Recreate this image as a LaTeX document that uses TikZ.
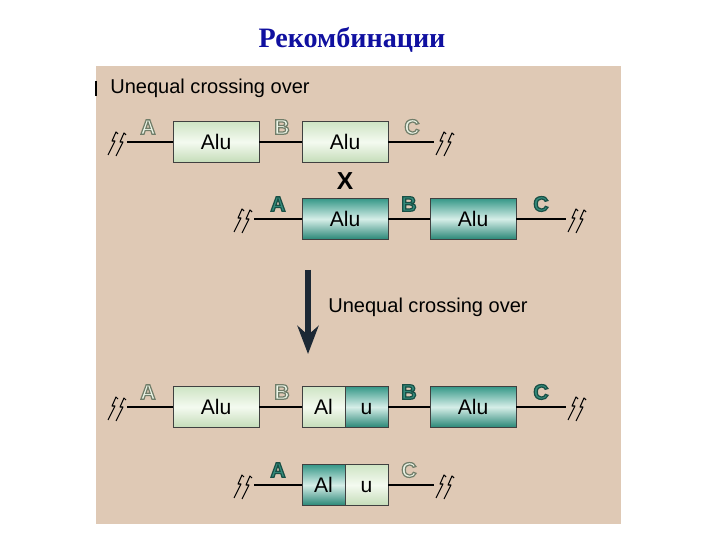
\documentclass[tikz,border=0pt]{standalone}
\usepackage{fontspec}
\setmainfont{Liberation Sans}
\newfontfamily\titlefont{Liberation Serif}
\usetikzlibrary{arrows.meta}

\definecolor{panel}{RGB}{223,201,181}
\definecolor{titleblue}{RGB}{16,16,160}
\definecolor{litetop}{RGB}{206,228,196}
\definecolor{litemid}{RGB}{244,250,240}
\definecolor{litebot}{RGB}{196,220,184}
\definecolor{darktop}{RGB}{54,152,136}
\definecolor{darkmid}{RGB}{214,238,232}
\definecolor{darkbot}{RGB}{40,134,118}
\definecolor{letfill}{RGB}{236,246,232}
\definecolor{tealfill}{RGB}{52,140,124}
\definecolor{arrowc}{RGB}{28,40,52}

% letter filled with #1 and stroked with the rgb triple #2
\newcommand\hollow[3]{{\color{#1}\special{pdf:literal direct #2 RG 0.7 w 2 Tr}#3\special{pdf:literal direct 0 Tr 0.3985 w}}}
\newcommand\lightlet[1]{\hollow{letfill}{0.44 0.49 0.41}{#1}}
\newcommand\darklet[1]{\hollow{tealfill}{0.10 0.31 0.27}{#1}}

\begin{document}
\begin{tikzpicture}[x=0.02cm, y=-0.02cm,
    lite/.style={draw=black!75, line width=0.5pt, minimum width=1.72cm, minimum height=0.82cm, inner sep=0pt,
        text height=8.6pt, text depth=0pt,
        top color=litetop, bottom color=litebot, middle color=litemid, font=\fontsize{12}{14}\selectfont},
    dark/.style={lite, top color=darktop, bottom color=darkbot, middle color=darkmid},
    half/.style={minimum width=0.86cm},
    site/.style={inner sep=0pt, font=\bfseries\fontsize{12}{14}\selectfont},
    label/.style={inner sep=0pt, font=\fontsize{11.4}{13}\selectfont},
    dna/.style={line width=1.1pt},
    brk/.pic={\draw[line width=0.6pt, line join=round] (-9,13) -- (-2,-1) -- (-5,-1) -- (-1,-10) -- (1,-8)
        (-1,14) -- (6,0) -- (3,0) -- (7,-9) -- (9,-7);}]

    \useasboundingbox (0,0) rectangle (720,540);
    \node[font=\titlefont\bfseries\fontsize{16}{19}\selectfont, text=titleblue] (title) at (352,40) {Рекомбинации};

    \fill[panel] (96,66) rectangle (621,524);
    \draw[line width=1.2pt] (96,81) -- (96,96);
    \node[label, anchor=west] (head) at (110,88) {Unequal crossing over};

    % first chromosome
    \node[lite] (a1) at (216,142) {Alu};
    \node[lite] (b1) at (345,142) {Alu};
    \coordinate (l1) at (127,142);
    \coordinate (r1) at (434,142);
    \draw[dna] (l1) -- (a1) (a1) -- (b1) (b1) -- (r1);
    \pic at (117,142) {brk};
    \pic at (445,142) {brk};
    \node[site] (sa1) at (148,127) {\lightlet{A}};
    \node[site] (sb1) at (282,127) {\lightlet{B}};
    \node[site] (sc1) at (412,127) {\lightlet{C}};

    \node[inner sep=0pt, font=\bfseries\fontsize{14}{16}\selectfont] (cross) at (345,181) {X};

    % second chromosome
    \node[dark] (a2) at (345,219) {Alu};
    \node[dark] (b2) at (473,219) {Alu};
    \coordinate (l2) at (254,219);
    \coordinate (r2) at (566,219);
    \draw[dna] (l2) -- (a2) (a2) -- (b2) (b2) -- (r2);
    \pic at (243,219) {brk};
    \pic at (577,219) {brk};
    \node[site] (sa2) at (278,204) {\darklet{A}};
    \node[site] (sb2) at (409,204) {\darklet{B}};
    \node[site] (sc2) at (541,204) {\darklet{C}};

    \coordinate (top) at (308,270);
    \coordinate (bot) at (308,354);
    \draw[arrowc, line width=3.4pt, -{Stealth[length=16pt,width=12pt]}] (top) -- (bot);
    \node[label] (step) at (428,307) {Unequal crossing over};

    % products
    \node[lite] (a3) at (216,407) {Alu};
    \node[lite, half] (p3) at (323.5,407) {Al};
    \node[dark, half] (q3) at (366.5,407) {u};
    \node[dark] (b3) at (473,407) {Alu};
    \coordinate (l3) at (127,407);
    \coordinate (r3) at (566,407);
    \draw[dna] (l3) -- (a3) (a3) -- (p3) (q3) -- (b3) (b3) -- (r3);
    \pic at (117,407) {brk};
    \pic at (577,407) {brk};
    \node[site] (sa3) at (148,392) {\lightlet{A}};
    \node[site] (sb3) at (282,392) {\lightlet{B}};
    \node[site] (sd3) at (409,392) {\darklet{B}};
    \node[site] (sc3) at (541,392) {\darklet{C}};

    \node[dark, half] (p4) at (323.5,485) {Al};
    \node[lite, half] (q4) at (366.5,485) {u};
    \coordinate (l4) at (254,485);
    \coordinate (r4) at (434,485);
    \draw[dna] (l4) -- (p4) (q4) -- (r4);
    \pic at (243,485) {brk};
    \pic at (445,485) {brk};
    \node[site] (sa4) at (278,470) {\darklet{A}};
    \node[site] (sc4) at (409,470) {\lightlet{C}};
\end{tikzpicture}
\end{document}
